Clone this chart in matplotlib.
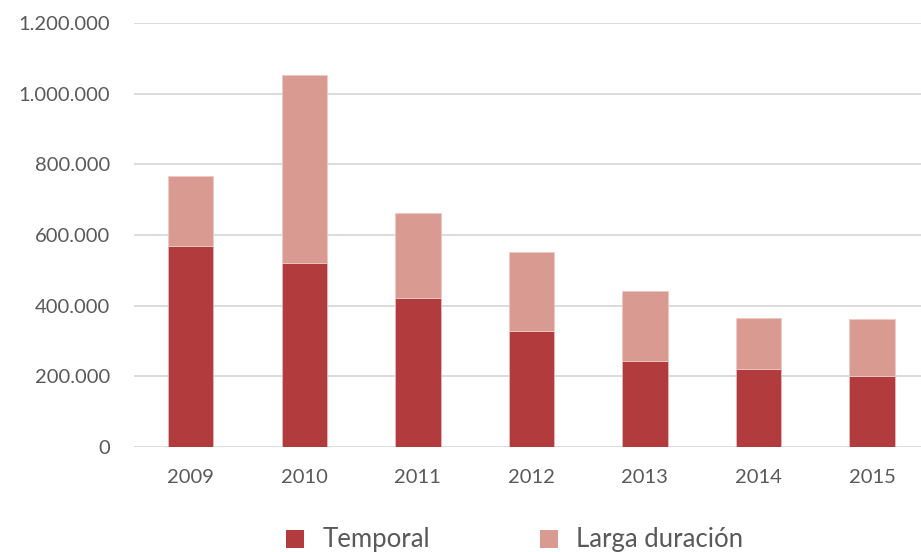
import matplotlib
matplotlib.use("Agg")
import matplotlib.pyplot as plt
from matplotlib.patches import Patch
from matplotlib.ticker import FuncFormatter

years = ["2009", "2010", "2011", "2012", "2013", "2014", "2015"]
temporal = [569000, 521000, 423000, 329000, 244000, 221000, 202000]
larga = [198000, 533000, 239000, 223000, 198000, 144000, 161000]

c_temp = "#B23B3E"
c_larga = "#D99A91"
txt = "#595959"

plt.rcParams["font.family"] = ["Lato", "DejaVu Sans"]

fig = plt.figure(figsize=(9.21, 5.52), dpi=100)
ax = fig.add_axes([134/921, 105/552, (921-134)/921, (447-23)/552])

x = list(range(len(years)))
ax.bar(x, temporal, width=0.4, color=c_temp, edgecolor="#E9B8B8", linewidth=0.6, zorder=3)
ax.bar(x, larga, width=0.4, bottom=temporal, color=c_larga, edgecolor="#F0C8C4", linewidth=0.6, zorder=3)

ax.set_xlim(-0.5, 6.432)
ax.set_ylim(0, 1200000)
ax.set_yticks(range(0, 1200001, 200000))
ax.yaxis.set_major_formatter(FuncFormatter(lambda v, p: f"{int(v):,}".replace(",", ".")))
ax.set_xticks(x)
ax.set_xticklabels(years)
ax.grid(axis="y", color="#D9D9D9", linewidth=1.3, zorder=0)
ax.set_axisbelow(True)
for s in ax.spines.values():
    s.set_visible(False)
ax.tick_params(axis="both", length=0, colors=txt, labelsize=14.5)
ax.tick_params(axis="y", pad=17)
ax.tick_params(axis="x", pad=16)

handles = [Patch(facecolor=c_temp, label="Temporal"), Patch(facecolor=c_larga, label="Larga duración")]
leg = fig.legend(handles=handles, loc="center", bbox_to_anchor=(515/921, 1 - 540/552), ncol=2,
                 frameon=False, fontsize=18.5, handlelength=0.7, handleheight=0.7,
                 handletextpad=0.7, columnspacing=4.3)
for t in leg.get_texts():
    t.set_color(txt)

fig.savefig("out.png", dpi=100)
